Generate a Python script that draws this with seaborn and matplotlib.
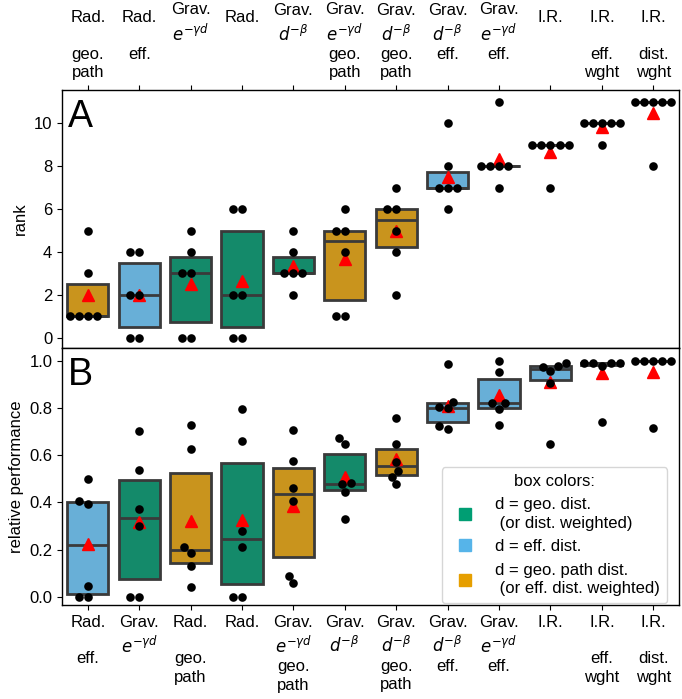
import numpy as np
import pandas as pd
import matplotlib
matplotlib.use("Agg")
import matplotlib.pyplot as plt
import seaborn as sns
from matplotlib.lines import Line2D

sns.set_style("ticks")
plt.rcParams['font.family'] = ['Liberation Sans', 'DejaVu Sans']
plt.rcParams['font.size'] = 12
for key in ["text.color", "axes.labelcolor", "xtick.color", "ytick.color",
            "axes.edgecolor"]:
    plt.rcParams[key] = "black"

# ---- data -------------------------------------------------------------
models = ["rad_geopath", "rad_eff", "grav_e_geo", "rad_geo", "grav_d_geo",
          "grav_e_geopath", "grav_d_geopath", "grav_d_eff", "grav_e_eff",
          "ir", "ir_eff_wght", "ir_dist_wght"]

label_lines = {
    "rad_geopath": ["Rad.", "", "geo.", "path"],
    "rad_eff": ["Rad.", "", "eff.", ""],
    "grav_e_geo": ["Grav.", "$e^{-\\gamma d}$", "", ""],
    "rad_geo": ["Rad.", "", "", ""],
    "grav_d_geo": ["Grav.", "$d^{-\\beta}$", "", ""],
    "grav_e_geopath": ["Grav.", "$e^{-\\gamma d}$", "geo.", "path"],
    "grav_d_geopath": ["Grav.", "$d^{-\\beta}$", "geo.", "path"],
    "grav_d_eff": ["Grav.", "$d^{-\\beta}$", "eff.", ""],
    "grav_e_eff": ["Grav.", "$e^{-\\gamma d}$", "eff.", ""],
    "ir": ["I.R.", "", "", ""],
    "ir_eff_wght": ["I.R.", "", "eff.", "wght"],
    "ir_dist_wght": ["I.R.", "", "dist.", "wght"],
}

dist_type = {
    "rad_geopath": "path", "rad_eff": "eff", "grav_e_geo": "geo", "rad_geo": "geo",
    "grav_d_geo": "geo", "grav_e_geopath": "path", "grav_d_geopath": "path",
    "grav_d_eff": "eff", "grav_e_eff": "eff", "ir": "eff",
    "ir_eff_wght": "path", "ir_dist_wght": "geo",
}

rank_values = {
    "rad_geopath": [1, 1, 1, 1, 3, 5],
    "rad_eff": [0, 0, 2, 2, 4, 4],
    "grav_e_geo": [0, 0, 3, 3, 4, 5],
    "rad_geo": [0, 0, 2, 2, 6, 6],
    "grav_d_geo": [2, 3, 3, 3, 4, 5],
    "grav_e_geopath": [1, 1, 4, 5, 5, 6],
    "grav_d_geopath": [2, 4, 5, 6, 6, 7],
    "grav_d_eff": [6, 7, 7, 7, 8, 10],
    "grav_e_eff": [7, 8, 8, 8, 8, 11],
    "ir": [7, 9, 9, 9, 9, 9],
    "ir_eff_wght": [9, 10, 10, 10, 10, 10],
    "ir_dist_wght": [8, 11, 11, 11, 11, 11],
}

perf_values = {
    "rad_eff": [0.0, 0.0, 0.045, 0.392, 0.406, 0.500],
    "grav_e_geo": [0.0, 0.0, 0.300, 0.371, 0.537, 0.702],
    "rad_geopath": [0.042, 0.132, 0.184, 0.209, 0.628, 0.727],
    "rad_geo": [0.0, 0.0, 0.211, 0.279, 0.662, 0.795],
    "grav_e_geopath": [0.058, 0.089, 0.407, 0.461, 0.576, 0.709],
    "grav_d_geo": [0.328, 0.443, 0.478, 0.481, 0.648, 0.675],
    "grav_d_geopath": [0.477, 0.509, 0.535, 0.570, 0.648, 0.757],
    "grav_d_eff": [0.711, 0.724, 0.799, 0.806, 0.827, 0.986],
    "grav_e_eff": [0.728, 0.796, 0.820, 0.823, 0.955, 1.000],
    "ir": [0.646, 0.908, 0.958, 0.976, 0.979, 0.993],
    "ir_eff_wght": [0.740, 0.979, 0.990, 0.990, 0.993, 0.993],
    "ir_dist_wght": [0.717, 1.000, 1.000, 1.000, 1.000, 1.000],
}

order_A = ["rad_geopath", "rad_eff", "grav_e_geo", "rad_geo", "grav_d_geo",
           "grav_e_geopath", "grav_d_geopath", "grav_d_eff", "grav_e_eff",
           "ir", "ir_eff_wght", "ir_dist_wght"]
order_B = ["rad_eff", "grav_e_geo", "rad_geopath", "rad_geo", "grav_e_geopath",
           "grav_d_geo", "grav_d_geopath", "grav_d_eff", "grav_e_eff",
           "ir", "ir_eff_wght", "ir_dist_wght"]

type_colors = {"geo": "#009E73", "eff": "#56B4E9", "path": "#E69F00"}
legend_labels = {
    "geo": "d = geo. dist.\n (or dist. weighted)",
    "eff": "d = eff. dist.",
    "path": "d = geo. path dist.\n (or eff. dist. weighted)",
}

palette = {m: type_colors[dist_type[m]] for m in models}

def make_label(m):
    # use a blank space for empty lines so every label keeps 4 rows
    return "\n".join(l if l else " " for l in label_lines[m])

def long_df(values):
    rows = []
    for m, vals in values.items():
        for v in vals:
            rows.append({"model": m, "value": v})
    return pd.DataFrame(rows)

df_A = long_df(rank_values)
df_B = long_df(perf_values)

# ---- figure -----------------------------------------------------------
fig = plt.figure(figsize=(6.82, 6.99), dpi=100)
axA = fig.add_axes([0.091, 0.5021, 0.9046, 0.3691])
axB = fig.add_axes([0.091, 0.1345, 0.9046, 0.3676])

meanprops = dict(marker="^", markerfacecolor="red", markeredgecolor="red",
                 markersize=9)

def draw(ax, df, order):
    sns.boxplot(data=df, x="model", y="value", hue="model", order=order,
                hue_order=order, palette=palette, legend=False, ax=ax,
                width=0.8, whis=0, showfliers=False, showcaps=False,
                showmeans=True, meanprops=meanprops,
                linecolor="#3a3a3a", linewidth=2)
    sns.swarmplot(data=df, x="model", y="value", order=order, color="black",
                  size=6.2, ax=ax, zorder=5)
    ax.set_xlabel("")
    ax.set_xlim(-0.5, len(order) - 0.5)

draw(axA, df_A, order_A)
draw(axB, df_B, order_B)

# panel A
axA.set_ylim(-0.48, 11.55)
axA.set_yticks([0, 2, 4, 6, 8, 10])
axA.set_ylabel("rank", fontsize=12)
axA.xaxis.tick_top()
axA.set_xticks(range(len(order_A)))
axA.set_xticklabels([make_label(m) for m in order_A], fontsize=12,
                    linespacing=1.28, va="bottom")
axA.text(0.01, 0.965, "A", transform=axA.transAxes, fontsize=27,
         va="top", ha="left")

# panel B
axB.set_ylim(-0.035, 1.055)
axB.set_yticks([0.0, 0.2, 0.4, 0.6, 0.8, 1.0])
axB.set_ylabel("relative performance", fontsize=12)
axB.set_xticks(range(len(order_B)))
axB.set_xticklabels([make_label(m) for m in order_B], fontsize=12,
                    linespacing=1.28, va="top")
axB.text(0.01, 0.965, "B", transform=axB.transAxes, fontsize=27,
         va="top", ha="left")

for ax in (axA, axB):
    ax.tick_params(labelsize=12, colors="black")
    for s in ax.spines.values():
        s.set_visible(True)
        s.set_linewidth(1.0)
        s.set_color("black")

handles = [Line2D([0], [0], marker="s", linestyle="", markersize=9,
                  markerfacecolor=type_colors[k], markeredgecolor=type_colors[k])
           for k in ["geo", "eff", "path"]]
leg = axB.legend(handles, [legend_labels[k] for k in ["geo", "eff", "path"]],
                 title="box colors:", loc="lower right",
                 bbox_to_anchor=(0.9805, 0.008), borderaxespad=0,
                 fontsize=12, title_fontsize=12, frameon=True,
                 labelspacing=0.5)
for t in leg.get_texts():
    t.set_linespacing(1.3)

fig.savefig("out.png", dpi=100)
